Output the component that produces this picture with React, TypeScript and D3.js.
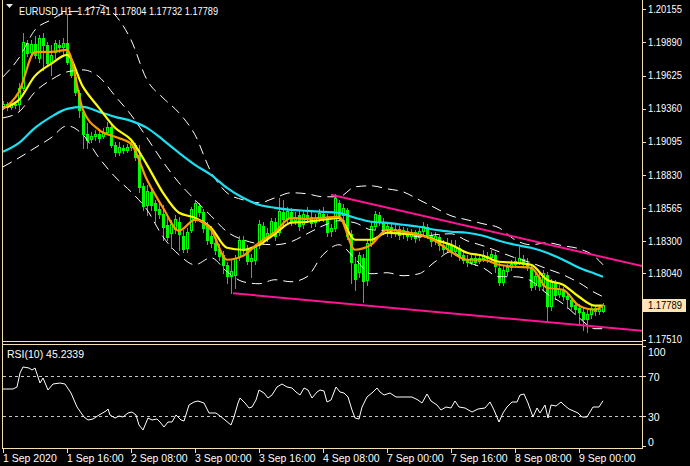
import React from 'react';
import * as d3 from 'd3';

const W = 690;
const H = 466;

// ---------- candle data (EURUSD H1) ----------
const opens = [1.19382,1.19398,1.19374,1.19390,1.19398,1.19526,1.19886,1.19814,1.19878,1.19766,1.19926,1.19870,1.19734,1.19814,1.19870,1.19854,1.19886,1.19750,1.19614,1.19486,1.19334,1.19158,1.19118,1.19142,1.19158,1.19142,1.19174,1.19214,1.19070,1.19014,1.19046,1.19030,1.19054,1.19070,1.18990,1.18742,1.18590,1.18694,1.18606,1.18558,1.18518,1.18430,1.18366,1.18398,1.18454,1.18342,1.18246,1.18390,1.18486,1.18582,1.18534,1.18422,1.18342,1.18286,1.18238,1.18190,1.18110,1.18022,1.18030,1.18174,1.18310,1.18230,1.18142,1.18150,1.18270,1.18422,1.18326,1.18366,1.18454,1.18374,1.18534,1.18486,1.18534,1.18470,1.18510,1.18438,1.18510,1.18494,1.18454,1.18486,1.18518,1.18494,1.18382,1.18406,1.18606,1.18510,1.18550,1.18358,1.18118,1.18054,1.18166,1.17990,1.18286,1.18422,1.18510,1.18454,1.18390,1.18414,1.18374,1.18398,1.18358,1.18382,1.18342,1.18374,1.18334,1.18382,1.18414,1.18350,1.18310,1.18334,1.18270,1.18246,1.18270,1.18222,1.18246,1.18190,1.18158,1.18134,1.18166,1.18142,1.18166,1.18182,1.18174,1.18190,1.18086,1.17974,1.18062,1.18094,1.18118,1.18134,1.18158,1.18126,1.18094,1.17950,1.18014,1.17950,1.18030,1.17782,1.17966,1.17878,1.17910,1.17862,1.17830,1.17790,1.17766,1.17734,1.17678,1.17718,1.17766,1.17742,1.17741];
const highs = [1.19422,1.19414,1.19406,1.19414,1.19566,1.19966,1.19910,1.19910,1.19942,1.19950,1.19966,1.19894,1.19870,1.19910,1.19910,1.19926,1.20118,1.19766,1.19630,1.19510,1.19350,1.19246,1.19174,1.19190,1.19182,1.19206,1.19254,1.19238,1.19094,1.19094,1.19070,1.19078,1.19110,1.19086,1.19070,1.18766,1.18750,1.18726,1.18630,1.18606,1.18590,1.18486,1.18470,1.18510,1.18494,1.18390,1.18406,1.18574,1.18630,1.18606,1.18558,1.18454,1.18422,1.18326,1.18278,1.18222,1.18134,1.18150,1.18190,1.18342,1.18342,1.18270,1.18198,1.18278,1.18470,1.18454,1.18406,1.18486,1.18486,1.18646,1.18630,1.18574,1.18566,1.18534,1.18550,1.18550,1.18574,1.18550,1.18518,1.18558,1.18574,1.18518,1.18438,1.18678,1.18630,1.18598,1.18566,1.18390,1.18174,1.18214,1.18198,1.18310,1.18454,1.18542,1.18534,1.18486,1.18454,1.18438,1.18430,1.18422,1.18414,1.18406,1.18398,1.18390,1.18406,1.18454,1.18438,1.18374,1.18374,1.18358,1.18310,1.18326,1.18310,1.18310,1.18270,1.18230,1.18190,1.18190,1.18190,1.18190,1.18230,1.18214,1.18230,1.18214,1.18126,1.18102,1.18118,1.18150,1.18174,1.18254,1.18190,1.18166,1.18118,1.18054,1.18046,1.18070,1.18054,1.17998,1.17990,1.17950,1.17934,1.17894,1.17854,1.17822,1.17798,1.17766,1.17750,1.17790,1.17790,1.17790,1.17804];
const lows = [1.19358,1.19350,1.19358,1.19366,1.19350,1.19510,1.19782,1.19790,1.19766,1.19734,1.19670,1.19710,1.19630,1.19766,1.19814,1.19790,1.19718,1.19614,1.19470,1.19294,1.19046,1.19046,1.19094,1.19110,1.19094,1.19126,1.19158,1.19054,1.18982,1.18990,1.19006,1.19014,1.19030,1.18950,1.18694,1.18550,1.18510,1.18550,1.18454,1.18486,1.18310,1.18310,1.18246,1.18366,1.18230,1.18214,1.18214,1.18374,1.18454,1.18502,1.18374,1.18278,1.18254,1.18198,1.18150,1.18046,1.17966,1.17886,1.17926,1.18150,1.18206,1.18118,1.18014,1.18118,1.18246,1.18278,1.18302,1.18342,1.18310,1.18350,1.18414,1.18454,1.18430,1.18438,1.18390,1.18406,1.18454,1.18414,1.18422,1.18462,1.18462,1.18342,1.18342,1.18382,1.18478,1.18478,1.18318,1.17966,1.17910,1.18014,1.17814,1.17950,1.18262,1.18398,1.18430,1.18358,1.18342,1.18334,1.18342,1.18318,1.18326,1.18310,1.18318,1.18294,1.18310,1.18358,1.18326,1.18262,1.18278,1.18230,1.18206,1.18214,1.18182,1.18190,1.18150,1.18126,1.18102,1.18118,1.18110,1.18126,1.18142,1.18134,1.18150,1.18054,1.17950,1.17950,1.18030,1.18070,1.18094,1.18118,1.18094,1.18070,1.17910,1.17918,1.17910,1.17910,1.17654,1.17750,1.17838,1.17854,1.17830,1.17766,1.17758,1.17718,1.17646,1.17590,1.17574,1.17686,1.17710,1.17718,1.17732];
const closes = [1.19398,1.19374,1.19390,1.19398,1.19526,1.19894,1.19806,1.19878,1.19790,1.19926,1.19870,1.19726,1.19790,1.19886,1.19854,1.19886,1.19734,1.19630,1.19494,1.19350,1.19158,1.19110,1.19142,1.19158,1.19126,1.19174,1.19214,1.19070,1.19014,1.19054,1.19030,1.19054,1.19078,1.18974,1.18734,1.18582,1.18702,1.18590,1.18550,1.18518,1.18414,1.18334,1.18438,1.18478,1.18358,1.18238,1.18374,1.18558,1.18606,1.18534,1.18406,1.18310,1.18286,1.18230,1.18182,1.18110,1.18022,1.18062,1.18166,1.18310,1.18230,1.18142,1.18166,1.18254,1.18438,1.18310,1.18366,1.18462,1.18342,1.18542,1.18478,1.18542,1.18462,1.18494,1.18422,1.18518,1.18486,1.18446,1.18486,1.18526,1.18494,1.18374,1.18406,1.18646,1.18510,1.18566,1.18342,1.18134,1.17998,1.18190,1.17982,1.18286,1.18422,1.18518,1.18454,1.18382,1.18422,1.18366,1.18398,1.18350,1.18390,1.18342,1.18374,1.18326,1.18382,1.18422,1.18350,1.18302,1.18342,1.18270,1.18238,1.18278,1.18214,1.18254,1.18182,1.18150,1.18134,1.18166,1.18134,1.18166,1.18190,1.18166,1.18198,1.18102,1.17974,1.18070,1.18094,1.18118,1.18142,1.18166,1.18118,1.18102,1.17934,1.18022,1.17942,1.18046,1.17782,1.17974,1.17870,1.17918,1.17862,1.17838,1.17782,1.17758,1.17734,1.17678,1.17718,1.17766,1.17742,1.17758,1.17789];

// ---------- indicator lines, read every 4 bars ----------
const lineBars = [0,4,8,12,16,20,24,28,32,36,40,44,48,52,56,60,64,68,72,76,80,84,88,92,96,100,104,108,112,116,120,124,128,132,136,140,144,148,150];
const maFast = [1.19358,1.19494,1.19814,1.19814,1.19830,1.19350,1.19190,1.19134,1.19078,1.18790,1.18566,1.18382,1.18470,1.18390,1.18150,1.18182,1.18286,1.18374,1.18486,1.18478,1.18486,1.18494,1.18230,1.18270,1.18390,1.18374,1.18350,1.18302,1.18214,1.18150,1.18150,1.18110,1.18094,1.18086,1.17926,1.17910,1.17782,1.17750,1.17782];
const maMid = [1.19366,1.19430,1.19622,1.19718,1.19790,1.19534,1.19366,1.19206,1.19110,1.18910,1.18686,1.18526,1.18486,1.18406,1.18246,1.18230,1.18270,1.18358,1.18446,1.18454,1.18470,1.18486,1.18310,1.18310,1.18366,1.18358,1.18350,1.18310,1.18270,1.18206,1.18182,1.18134,1.18126,1.18110,1.17990,1.17950,1.17854,1.17782,1.17782];
const maSlow = [1.19014,1.19086,1.19206,1.19294,1.19358,1.19374,1.19334,1.19294,1.19262,1.19206,1.19110,1.19006,1.18910,1.18830,1.18726,1.18646,1.18590,1.18566,1.18550,1.18542,1.18534,1.18526,1.18486,1.18454,1.18446,1.18430,1.18414,1.18390,1.18374,1.18366,1.18342,1.18302,1.18270,1.18246,1.18206,1.18150,1.18086,1.18038,1.18014];
const bbMid = [1.19286,1.19334,1.19494,1.19590,1.19654,1.19670,1.19614,1.19462,1.19310,1.19126,1.18934,1.18766,1.18630,1.18502,1.18374,1.18310,1.18278,1.18270,1.18294,1.18358,1.18422,1.18462,1.18446,1.18390,1.18382,1.18358,1.18334,1.18350,1.18358,1.18302,1.18262,1.18214,1.18166,1.18126,1.18078,1.18030,1.17966,1.17886,1.17854];
const bbUpper = [1.19614,1.19766,1.19990,1.20070,1.20134,1.20142,1.20190,1.20110,1.19910,1.19590,1.19446,1.19326,1.19150,1.18854,1.18686,1.18630,1.18606,1.18646,1.18686,1.18678,1.18654,1.18654,1.18734,1.18742,1.18718,1.18694,1.18630,1.18566,1.18502,1.18470,1.18438,1.18406,1.18310,1.18270,1.18286,1.18262,1.18238,1.18174,1.18110];
const bbLower = [1.18894,1.18966,1.19046,1.19126,1.19222,1.19150,1.18966,1.18814,1.18694,1.18550,1.18334,1.18190,1.18110,1.18166,1.18054,1.17974,1.17958,1.17990,1.17974,1.18014,1.18190,1.18270,1.18158,1.18038,1.18046,1.18022,1.18038,1.18134,1.18214,1.18134,1.18086,1.18014,1.18014,1.17982,1.17878,1.17798,1.17686,1.17598,1.17598];

// ---------- trend lines (bar position, price) ----------
const trendUpperBars = [82, 160];
const trendUpperPrices = [1.18670, 1.18098];
const trendLowerBars = [57.5, 160];
const trendLowerPrices = [1.17882, 1.17580];

// ---------- RSI(10) ----------
const rsiPos = [0,2.5,3.5,4.25,5,6.5,7.25,8,9.25,10,11.25,12.5,14.25,15.5,17,18.5,20.25,21.25,22.5,24,25.75,26.25,26.75,28,29,30,31.25,32.25,33.25,34,35,36.25,37.25,38.5,39.25,40.25,41.25,42.25,43.25,44.5,45.25,46.5,47.75,48.75,50.25,51.5,53.25,54.25,55.5,57,57.75,58.75,59.25,60.5,61.5,62.25,63.25,64,65.25,66.25,67.25,68.5,69.75,71,72.25,73.25,74.25,75.25,76.25,77.25,78.5,79.25,80.25,81,82,83.25,84.25,85.25,86.25,87.25,88,89,89.75,91,92.5,93.5,94.25,95.25,96.75,98.25,100,102.25,103.75,104.75,106,107,108.5,109.5,110.75,112,113,114,115.5,117.25,118.75,120.5,121.75,122.75,124,125,126,127.25,128.5,129.25,130.25,131.25,132.5,133.5,134.25,135.5,136.25,137,138.25,139.5,140.25,141.5,143.75,144.75,146,147.5,149,150];
const rsiVals = [57,57,59,73,79,78,76,78,63,68,56,62,63,62,53,39,29,26,27,31,35,37,31,28,30,29,33,34,31,21,16,28,26,27,24,19,24,24,31,26,25,41,44,45,43,33,33,30,26,21,29,43,48,43,38,39,46,56,53,48,51,59,62,59,58,54,51,58,56,48,54,56,55,44,46,59,54,53,49,36,28,27,39,49,54,58,54,51,53,49,49,49,46,43,52,45,41,36,39,38,45,39,38,34,37,38,44,36,24,33,39,44,44,51,52,43,29,38,33,41,28,41,40,44,41,37,33,29,29,39,39,45.2339];
const rsiLevels = [70, 30];
const rsiTicks = [100, 70, 30, 0];

// ---------- axes ----------
const priceTicks = [1.20155,1.19890,1.19625,1.19360,1.19095,1.18830,1.18565,1.18300,1.18040,1.17510];
const lastPrice = 1.17789;
const timeBars = [0,16,32,48,64,80,96,112,128,144];
const timeLabels = ['1 Sep 2020','1 Sep 16:00','2 Sep 08:00','3 Sep 00:00','3 Sep 16:00','4 Sep 08:00','7 Sep 00:00','7 Sep 16:00','8 Sep 08:00','9 Sep 00:00'];
const headerSymbol = 'EURUSD,H1';
const headerOHLC = [1.17741, 1.17804, 1.17732, 1.17789];
const rsiTitle = 'RSI(10) 45.2339';

const FRAME = '#F5DEB3';
const TEXT = '#FFFFFF';
const GREEN = '#00FF00';
const WICK = '#00E000';
const FONT = '"Liberation Sans", Arial, sans-serif';

export default function App() {
  const x = d3.scaleLinear().domain([0, 150]).range([3, 603]);
  const y = d3.scaleLinear().domain([1.17510, 1.20155]).range([339.7, 9.3]);
  const ry = d3.scaleLinear().domain([0, 100]).range([446, 346]);

  const mkLine = (vals: number[]) =>
    d3.line<number>()
      .x((_, i) => x(lineBars[i]))
      .y((v) => y(v))
      .curve(d3.curveMonotoneX)(vals) || '';

  const rsiPath = d3.line<number>()
    .x((_, i) => x(rsiPos[i]))
    .y((v) => ry(v))(rsiVals) || '';

  const trend = (bars: number[], prices: number[]) =>
    d3.line<number>().x((_, i) => x(bars[i])).y((p) => y(p))(prices) || '';

  const fmt = d3.format('.5f');

  return (
    <>
      <style>{`body{margin:0;background:#000;}`}</style>
      <svg width={W} height={H} style={{ display: 'block', background: '#000' }} fontFamily={FONT}>
        <defs>
          <clipPath id="mainClip"><rect x={3} y={0} width={639} height={341} /></clipPath>
          <clipPath id="rsiClip"><rect x={3} y={345} width={639} height={103} /></clipPath>
        </defs>
        <rect x={0} y={0} width={W} height={H} fill="#000" />

        {/* candles */}
        <g clipPath="url(#mainClip)" shapeRendering="crispEdges">
          {opens.map((o, i) => {
            const c = closes[i];
            const cx = Math.round(x(i));
            const yo = y(o), yc = y(c);
            const top = Math.round(Math.min(yo, yc));
            const bot = Math.round(Math.max(yo, yc));
            const bull = c >= o;
            return (
              <g key={i}>
                <line x1={cx + 0.5} x2={cx + 0.5} y1={Math.round(y(highs[i]))} y2={Math.round(y(lows[i])) + 1} stroke={WICK} />
                {bull && bot - top >= 2 ? (
                  <rect x={cx - 0.5} y={top + 0.5} width={2} height={bot - top} fill="#000" stroke={GREEN} />
                ) : (
                  <rect x={cx - 1} y={top} width={3} height={Math.max(1, bot - top + 1)} fill={GREEN} />
                )}
              </g>
            );
          })}
        </g>

        {/* bollinger bands */}
        <g clipPath="url(#mainClip)" fill="none" stroke="#FFFFFF" strokeWidth={1} strokeDasharray="10,6">
          <path d={mkLine(bbUpper)} />
          <path d={mkLine(bbMid)} />
          <path d={mkLine(bbLower)} />
        </g>

        {/* moving averages */}
        <g clipPath="url(#mainClip)" fill="none" strokeWidth={2.2} strokeLinejoin="round">
          <path d={mkLine(maSlow)} stroke="#1CE0F2" />
          <path d={mkLine(maMid)} stroke="#FFFF00" />
          <path d={mkLine(maFast)} stroke="#FF9900" />
        </g>

        {/* trend lines */}
        <g clipPath="url(#mainClip)" fill="none" stroke="#FF1493" strokeWidth={2}>
          <path d={trend(trendUpperBars, trendUpperPrices)} />
          <path d={trend(trendLowerBars, trendLowerPrices)} />
        </g>

        {/* header */}
        <polygon points="6,4 13,4 9.5,8" fill="#E8E8E8" />
        <text x={19} y={14.5} fontSize={11.5} fill={TEXT} style={{ whiteSpace: 'pre' }} textLength={199} lengthAdjust="spacingAndGlyphs">
          {`${headerSymbol}  ${headerOHLC.map(fmt).join(' ')}`}
        </text>

        {/* frames */}
        <g stroke={FRAME} strokeWidth={1} shapeRendering="crispEdges" fill="none">
          <line x1={2.5} x2={2.5} y1={0} y2={449} />
          <line x1={642.5} x2={642.5} y1={0} y2={449} />
          <line x1={2} x2={643} y1={341.5} y2={341.5} />
          <line x1={2} x2={643} y1={344.5} y2={344.5} />
          <line x1={2} x2={643} y1={448.5} y2={448.5} />
        </g>

        {/* price axis */}
        <g fontSize={10.5} fill={TEXT}>
          {priceTicks.map((p) => (
            <g key={p}>
              <line x1={643} x2={646} y1={Math.round(y(p)) + 0.5} y2={Math.round(y(p)) + 0.5} stroke={FRAME} shapeRendering="crispEdges" />
              <text x={648} y={y(p)} dy="0.36em" textLength={34} lengthAdjust="spacingAndGlyphs">{fmt(p)}</text>
            </g>
          ))}
          <rect x={643} y={Math.round(y(lastPrice)) - 6} width={43} height={13} fill="#FFE4B5" />
          <text x={648} y={y(lastPrice)} dy="0.36em" fill="#000" textLength={34} lengthAdjust="spacingAndGlyphs">{fmt(lastPrice)}</text>
        </g>

        {/* RSI panel */}
        <g clipPath="url(#rsiClip)">
          {rsiLevels.map((lv) => (
            <line key={lv} x1={3} x2={642} y1={Math.round(ry(lv)) + 0.5} y2={Math.round(ry(lv)) + 0.5} stroke="#C8C8C8" strokeDasharray="3,3" shapeRendering="crispEdges" />
          ))}
          <path d={rsiPath} fill="none" stroke="#FFFFFF" strokeWidth={1} />
        </g>
        <text x={7} y={358} fontSize={10.5} fill={TEXT}>{rsiTitle}</text>
        <g fontSize={10.5} fill={TEXT}>
          {rsiTicks.map((t) => {
            const yy = Math.min(442, Math.max(352, ry(t) + 1));
            return (
              <g key={t}>
                <line x1={643} x2={646} y1={Math.round(ry(t)) + 0.5} y2={Math.round(ry(t)) + 0.5} stroke={FRAME} shapeRendering="crispEdges" />
                <text x={648} y={yy} dy="0.36em">{t}</text>
              </g>
            );
          })}
        </g>

        {/* time axis */}
        <g fontSize={10.5} fill={TEXT}>
          {timeBars.map((b, i) => (
            <g key={b}>
              <line x1={Math.round(x(b)) + 0.5} x2={Math.round(x(b)) + 0.5} y1={449} y2={453} stroke={FRAME} shapeRendering="crispEdges" />
              <text x={Math.round(x(b))} y={462}>{timeLabels[i]}</text>
            </g>
          ))}
        </g>
      </svg>
    </>
  );
}
